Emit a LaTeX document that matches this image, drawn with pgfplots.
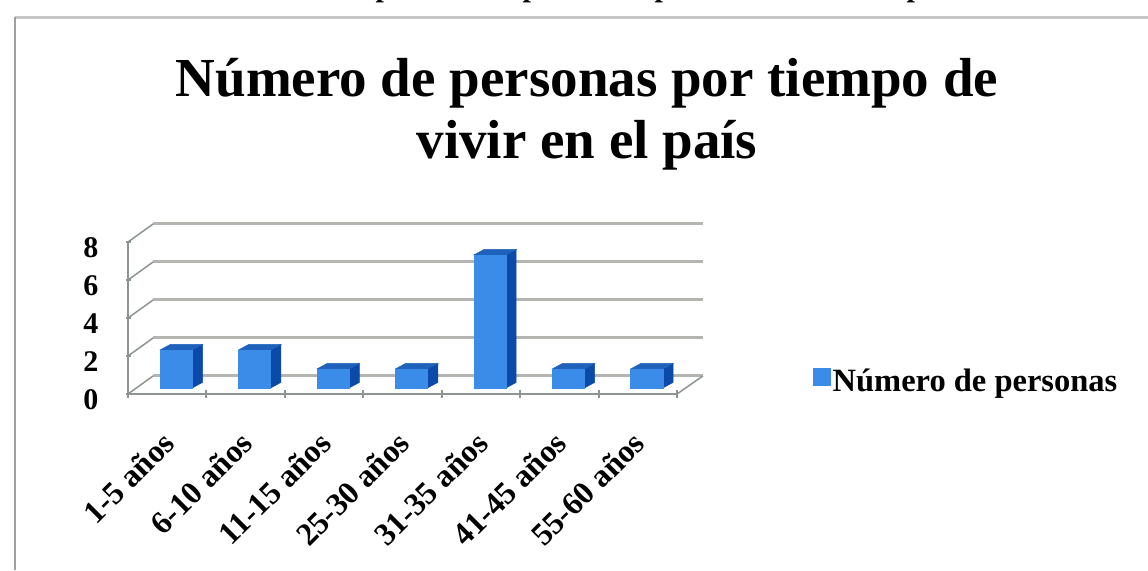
\documentclass[border=0pt]{standalone}
\usepackage{pgfplots}
\pgfplotsset{compat=1.18}
\usepackage{fontspec}
\setmainfont{Liberation Serif}
\definecolor{barfront}{HTML}{3A8CE8}
\definecolor{bartop}{HTML}{1E62BC}
\definecolor{barside}{HTML}{0B4AA8}
\definecolor{gridgray}{HTML}{B4B4B0}
\definecolor{axisgray}{HTML}{8E9494}
\tikzset{
  front/.style={fill=barfront,draw=barfront,line width=0.5pt},
  top/.style={fill=bartop,draw=bartop,line width=0.5pt},
  side/.style={fill=barside,draw=barside,line width=0.5pt},
  wall/.style={gridgray,line width=3pt},
  edge/.style={axisgray,line width=2pt},
}
\begin{document}
\begin{tikzpicture}[x=1pt,y=1pt]
  % page = 1148x570, one pt per reference pixel, y going down
  \path[use as bounding box] (0,0) rectangle (1148,-570);
  \draw[gray!45,line width=3pt] (15,-17) -- (1148,-17);
  \draw[gray!75,line width=2pt] (15,-570) -- (15,-17);
  \foreach \px in {384,531,663,915}
    \node[font=\bfseries\fontsize{30}{30}\selectfont,anchor=base,inner sep=0pt] at (\px,3) {p};
  \node[font=\bfseries\fontsize{55}{62}\selectfont,align=center,anchor=center] at (587,-114)
    {Número de personas por tiempo de\\vivir en el país};
  \begin{axis}[
    at={(128pt,-394pt)},
    anchor=south west,
    scale only axis,
    width=549pt,
    height=152pt,
    xmin=0, xmax=7,
    ymin=0, ymax=8,
    clip=false,
    axis lines=left,
    axis line style={edge,-},
    xtick={0.5,1.5,2.5,3.5,4.5,5.5,6.5},
    xticklabels={1-5 años,6-10 años,11-15 años,25-30 años,31-35 años,41-45 años,55-60 años},
    minor xtick={0,1,2,3,4,5,6,7},
    ytick={0,2,4,6,8},
    major x tick style={draw=none},
    minor x tick style={edge},
    y tick style={edge},
    minor tick length=8pt,
    major tick length=5pt,
    xticklabel style={rotate=45,anchor=north east,font=\bfseries\fontsize{32}{32}\selectfont,inner sep=1pt,yshift=-17.5pt,xshift=-27pt},
    yticklabel style={font=\bfseries\fontsize{30}{30}\selectfont,inner sep=6pt,xshift=-21pt,yshift=-6pt},
    /pgf/number format/assume math mode=true,
    legend style={at={(1.2477,0.088)},anchor=west,draw=none,fill=none,
      font=\bfseries\fontsize{32.5}{33}\selectfont,inner sep=0pt,
      /tikz/every even column/.append style={column sep=11pt}},
    legend image code/.code={\fill[barfront] (0pt,-4.5pt) rectangle (17pt,12.5pt);},
  ]
  % floor and back wall
  \addplot[wall,forget plot] coordinates {(0.32,8.95) (7.33,8.95)};
  \addplot[wall,forget plot] coordinates {(0.32,6.95) (7.33,6.95)};
  \addplot[wall,forget plot] coordinates {(0.32,4.95) (7.33,4.95)};
  \addplot[wall,forget plot] coordinates {(0.32,2.95) (7.33,2.95)};
  \addplot[wall,forget plot] coordinates {(0.32,0.95) (7.33,0.95)};
  \addplot[edge,line width=1.5pt,forget plot] coordinates {(0,8) (0.32,8.95)};
  \addplot[edge,line width=1.5pt,forget plot] coordinates {(0,6) (0.32,6.95)};
  \addplot[edge,line width=1.5pt,forget plot] coordinates {(0,4) (0.32,4.95)};
  \addplot[edge,line width=1.5pt,forget plot] coordinates {(0,2) (0.32,2.95)};
  \addplot[edge,line width=1.5pt,forget plot] coordinates {(0,0) (0.32,0.95)};
  \addplot[edge,line width=1.5pt,forget plot] coordinates {(7,0) (7.33,0.95)};

  % 1-5 años = 2
  \addplot[side,forget plot] coordinates {(0.82,0.32) (0.95,0.61) (0.95,2.61) (0.82,2.32)} --cycle;
  \addplot[top,forget plot] coordinates {(0.41,2.32) (0.54,2.61) (0.95,2.61) (0.82,2.32)} --cycle;
  \addplot[front] coordinates {(0.41,0.32) (0.82,0.32) (0.82,2.32) (0.41,2.32)} --cycle;
  \addlegendentry{Número de personas}
  % 6-10 años = 2
  \addplot[side,forget plot] coordinates {(1.82,0.32) (1.95,0.61) (1.95,2.61) (1.82,2.32)} --cycle;
  \addplot[top,forget plot] coordinates {(1.41,2.32) (1.54,2.61) (1.95,2.61) (1.82,2.32)} --cycle;
  \addplot[front,forget plot] coordinates {(1.41,0.32) (1.82,0.32) (1.82,2.32) (1.41,2.32)} --cycle;
  % 11-15 años = 1
  \addplot[side,forget plot] coordinates {(2.82,0.32) (2.95,0.61) (2.95,1.61) (2.82,1.32)} --cycle;
  \addplot[top,forget plot] coordinates {(2.41,1.32) (2.54,1.61) (2.95,1.61) (2.82,1.32)} --cycle;
  \addplot[front,forget plot] coordinates {(2.41,0.32) (2.82,0.32) (2.82,1.32) (2.41,1.32)} --cycle;
  % 25-30 años = 1
  \addplot[side,forget plot] coordinates {(3.82,0.32) (3.95,0.61) (3.95,1.61) (3.82,1.32)} --cycle;
  \addplot[top,forget plot] coordinates {(3.41,1.32) (3.54,1.61) (3.95,1.61) (3.82,1.32)} --cycle;
  \addplot[front,forget plot] coordinates {(3.41,0.32) (3.82,0.32) (3.82,1.32) (3.41,1.32)} --cycle;
  % 31-35 años = 7
  \addplot[side,forget plot] coordinates {(4.82,0.32) (4.95,0.61) (4.95,7.61) (4.82,7.32)} --cycle;
  \addplot[top,forget plot] coordinates {(4.41,7.32) (4.54,7.61) (4.95,7.61) (4.82,7.32)} --cycle;
  \addplot[front,forget plot] coordinates {(4.41,0.32) (4.82,0.32) (4.82,7.32) (4.41,7.32)} --cycle;
  % 41-45 años = 1
  \addplot[side,forget plot] coordinates {(5.82,0.32) (5.95,0.61) (5.95,1.61) (5.82,1.32)} --cycle;
  \addplot[top,forget plot] coordinates {(5.41,1.32) (5.54,1.61) (5.95,1.61) (5.82,1.32)} --cycle;
  \addplot[front,forget plot] coordinates {(5.41,0.32) (5.82,0.32) (5.82,1.32) (5.41,1.32)} --cycle;
  % 55-60 años = 1
  \addplot[side,forget plot] coordinates {(6.82,0.32) (6.95,0.61) (6.95,1.61) (6.82,1.32)} --cycle;
  \addplot[top,forget plot] coordinates {(6.41,1.32) (6.54,1.61) (6.95,1.61) (6.82,1.32)} --cycle;
  \addplot[front,forget plot] coordinates {(6.41,0.32) (6.82,0.32) (6.82,1.32) (6.41,1.32)} --cycle;
  \end{axis}
\end{tikzpicture}
\end{document}
